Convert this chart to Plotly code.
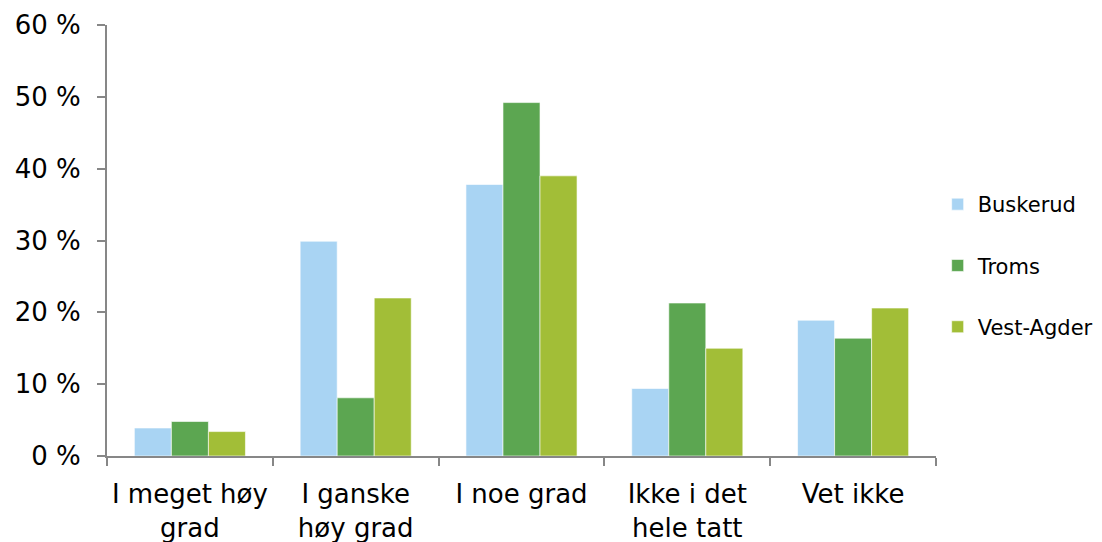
import plotly.graph_objects as go

categories = ["I meget høy<br>grad", "I ganske<br>høy grad", "I noe grad", "Ikke i det<br>hele tatt", "Vet ikke"]
buskerud = [3.9, 29.9, 37.8, 9.4, 18.9]
troms = [4.8, 8.1, 49.2, 21.3, 16.4]
vest_agder = [3.4, 22.0, 39.0, 15.0, 20.6]
series_names = ["Buskerud", "Troms", "Vest-Agder"]
colors = ["#A9D4F3", "#5CA651", "#A2BE37"]
y_ticks = [0, 10, 20, 30, 40, 50, 60]
y_tick_text = [f"{v} %" for v in y_ticks]

fig = go.Figure()
for name, vals, col in zip(series_names, [buskerud, troms, vest_agder], colors):
    fig.add_trace(go.Bar(
        x=categories, y=vals, name=name, legendgroup=name,
        marker=dict(color=col, line=dict(color="rgba(255,255,255,0.6)", width=1)),
    ))

font_family = "DejaVu Sans, Verdana, sans-serif"
fig.update_layout(
    width=1102, height=542,
    margin=dict(l=99, r=144, t=17, b=94),
    paper_bgcolor="white", plot_bgcolor="white",
    barmode="group", bargap=0.33, bargroupgap=0,
    font=dict(family=font_family, color="#000000"),
    showlegend=True,
    legend=dict(x=1.002, y=0.442, xanchor="left", yanchor="middle",
                font=dict(size=21, family=font_family),
                tracegroupgap=31, itemwidth=30, bgcolor="rgba(0,0,0,0)"),
    xaxis=dict(
        showline=True, linecolor="#878787", linewidth=2,
        ticks="outside", tickson="boundaries", ticklen=8, tickcolor="#878787", tickwidth=2,
        tickfont=dict(size=26, family=font_family, color="#000000"),
        tickangle=0, ticklabelstandoff=14, showgrid=False, automargin=False,
    ),
    yaxis=dict(
        range=[0, 60], tickvals=y_ticks, ticktext=y_tick_text,
        showline=True, linecolor="#878787", linewidth=2,
        ticks="outside", ticklen=8, tickcolor="#878787", tickwidth=2,
        tickfont=dict(size=26, family=font_family, color="#000000"),
        showgrid=False, zeroline=False, ticklabelstandoff=11, automargin=False,
    ),
)

fig.write_html("out.html")
